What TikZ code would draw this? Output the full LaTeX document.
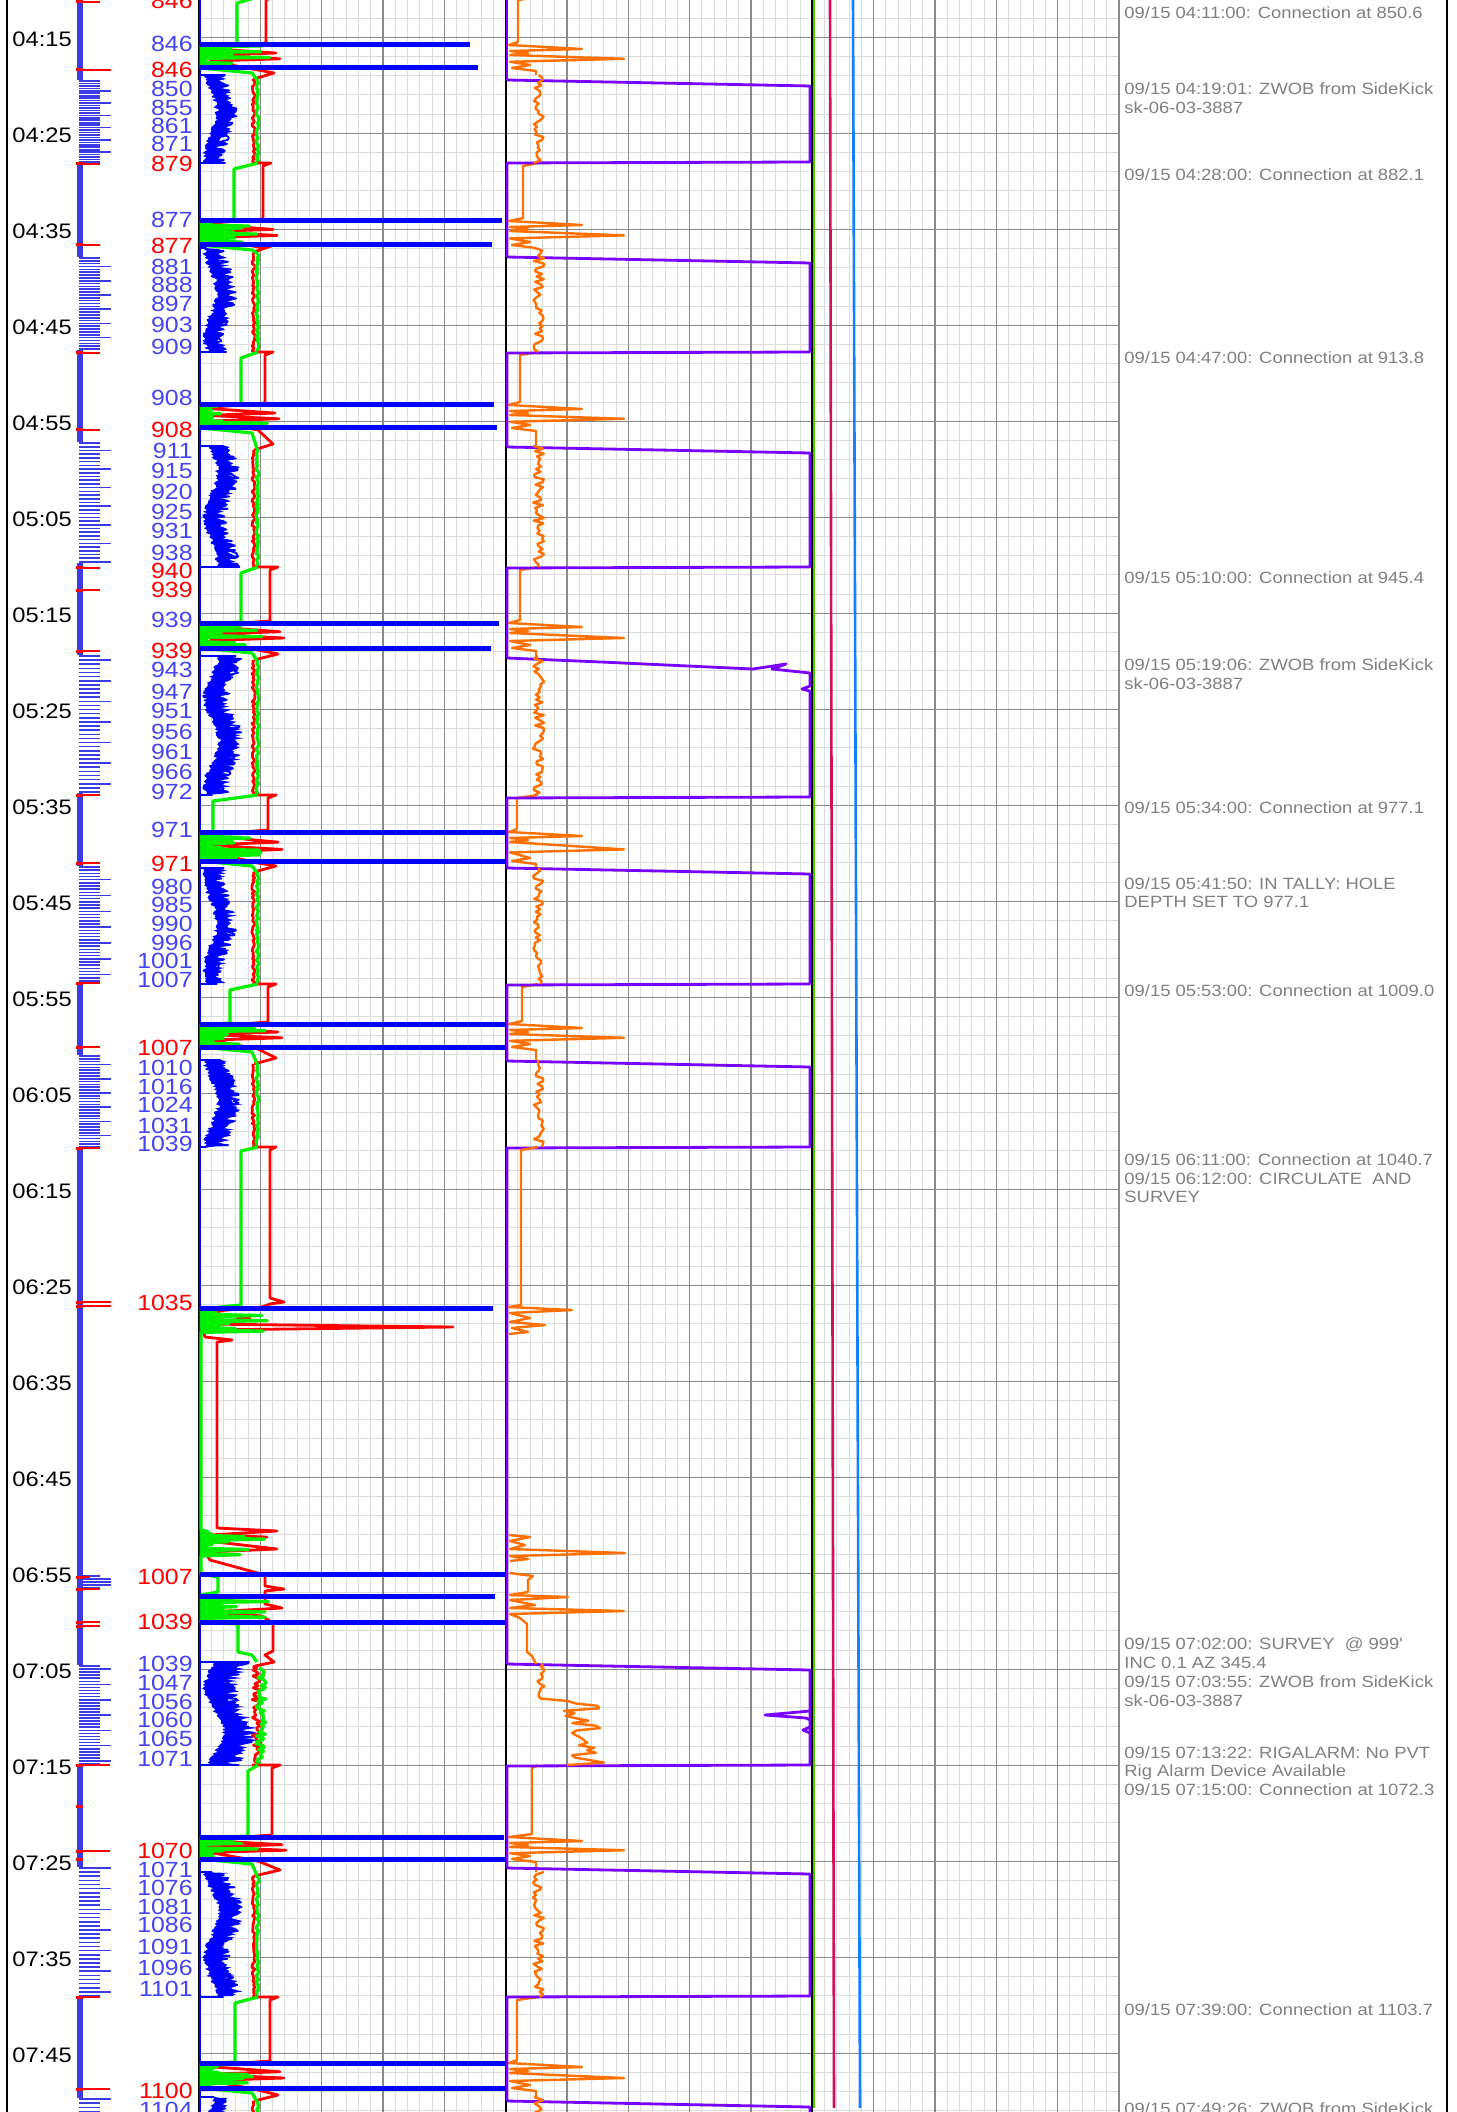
\documentclass[tikz,border=0pt]{standalone}
\usepackage{fontspec}
\setmainfont{Liberation Sans}[FakeStretch=1.13]

\definecolor{gridminor}{HTML}{DCDCDC}
\definecolor{gridmajor}{HTML}{8A8A8A}
\definecolor{ropblue}{HTML}{0000FF}
\definecolor{depthblue}{HTML}{4444F2}
\definecolor{tickblue}{HTML}{3C3CE6}
\definecolor{wobgreen}{HTML}{00F000}
\definecolor{torqred}{HTML}{FF0000}
\definecolor{sppcolor}{HTML}{FF7000}
\definecolor{flowcolor}{HTML}{7800FF}
\definecolor{limeline}{HTML}{50C800}
\definecolor{crimline}{HTML}{D0105A}
\definecolor{skyline}{HTML}{1280FF}
\definecolor{notegray}{HTML}{808080}

\tikzset{
  minorgrid/.style={draw=gridminor, line width=0.5pt},
  majorgrid/.style={draw=gridmajor, line width=0.6pt},
  trackedge/.style={draw=black, line width=0.75pt},
  timelabel/.style={anchor=base west, inner sep=0pt, font=\fontsize{10.5}{12}\selectfont},
  depthlabel/.style={anchor=base east, inner sep=0pt, font=\fontsize{11}{12}\selectfont},
  note/.style={anchor=base west, inner sep=0pt, text=notegray, font=\fontsize{8.15}{9.5}\selectfont},
  ropline/.style={draw=ropblue, line width=1.3pt},
  ropband/.style={draw=ropblue, line width=0.9pt, line join=round},
  ropspike/.style={draw=ropblue, line width=2.5pt},
  wobline/.style={draw=wobgreen, line width=1.6pt, line join=round},
  torqline/.style={draw=torqred, line width=1.4pt, line join=round},
  sppline/.style={draw=sppcolor, line width=1.2pt, line join=round},
  flowline/.style={draw=flowcolor, line width=1.4pt, line join=round},
  tickline/.style={draw=tickblue, line width=0.8pt},
  redmark/.style={draw=torqred, line width=0.9pt}
}

\begin{document}
\begin{tikzpicture}[x=0.5pt,y=-0.5pt]
  \pgfmathsetseed{4211}
  \useasboundingbox (0,0) rectangle (1456,2112);

  \foreach \j in {-1,...,108}
    \draw[minorgrid] (199,{37.3+\j*19.2}) -- (1119,{37.3+\j*19.2});
  \foreach \i in {0,...,75}
    \draw[minorgrid] ({199+\i*12.267},0) -- ({199+\i*12.267},2112);
  \foreach \j in {0,...,21}
    \draw[majorgrid] (199,{37.3+\j*96}) -- (1119,{37.3+\j*96});
  \foreach \i in {0,...,15}
    \draw[majorgrid] ({199+\i*61.333},0) -- ({199+\i*61.333},2112);
  \foreach \x in {199,506,812}
    \draw[trackedge] (\x,0) -- (\x,2112);
  \draw[draw=gridmajor, line width=0.9pt] (1119,0) -- (1119,2112);
  \draw[line width=1pt] (7,0) -- (7,2112);
  \draw[line width=1.2pt] (1447,0) -- (1447,2112);

  \foreach \tm [count=\k from 0] in {04:15,04:25,04:35,04:45,04:55,05:05,05:15,05:25,05:35,05:45,05:55,06:05,06:15,06:25,06:35,06:45,06:55,07:05,07:15,07:25,07:35,07:45}
    \node[timelabel] (t\k) at (12,{46.7+\k*96}) {\tm};

  \foreach \a/\b in {-5/80,163/257,350/442,563/655,793/866,982/1055,1148/1665,1765/1867,1997/2098}
    \fill[tickblue] (77,\a) rectangle (83,\b);
  \foreach \a/\b/\p/\q [evaluate=\q as \n using {int(\q-\p)}] in {80/163/846/879, 257/350/877/909, 442/563/908/940, 655/793/939/972, 866/982/971/1007, 1055/1148/1007/1039, 1665/1765/1039/1071, 1867/1997/1070/1101, 2098/2125/1100/1106}
    \foreach \k in {0,...,\n} {
      \pgfmathsetmacro\yy{\a+1+\k*(\b-\a-2)/\n}
      \pgfmathsetmacro\xx{mod(\p+\k,5)==0 ? 111 : 100}
      \draw[tickline] (79,\yy) -- (\xx,\yy);
    }
  \foreach \y/\l in {1576/100,1579/111,1582/111,1585/111,1588/100}
    \draw[tickline] (79,\y) -- (\l,\y);
  \foreach \y/\l in {2/100, 70/111, 164/100, 245/100, 353/100, 430/100, 568/100, 590/100, 651/100, 795/100, 863/100, 983/100, 1047/100, 1148/100, 1302/111, 1306/111, 1577/90, 1589/100, 1622/100, 1626/100, 1765/110, 1806/83, 1851/110, 1859/83, 1997/100, 2089/110} {
    \fill[torqred] (76,{\y-1.5}) rectangle (83,{\y+1.5});
    \draw[redmark] (76,\y) -- (\l,\y);
  }

  \foreach \y/\d [count=\n] in {43.3/846, 88.3/850, 107.3/855, 126/861, 144/871, 220/877, 266.7/881, 285/888, 303.3/897, 325/903, 346.7/909, 398/908, 450.8/911, 470.6/915, 491.4/920, 512/925, 531/931, 552.2/938, 619.7/939, 669.3/943, 691.5/947, 710.3/951, 731.6/956, 751.4/961, 771.7/966, 792/972, 829.7/971, 886.4/980, 904.8/985, 924.1/990, 942.5/996, 960.5/1001, 979.3/1007, 1067.6/1010, 1086.5/1016, 1105/1024, 1126/1031, 1144/1039, 1664/1039, 1683/1047, 1702/1056, 1720/1060, 1739/1065, 1759/1071, 1870/1071, 1888/1076, 1907/1081, 1925/1086, 1947/1091, 1968/1096, 1989/1101, 2110/1104}
    \node[depthlabel, text=depthblue] (db\n) at (193,{\y+7.8}) {\d};
  \foreach \y/\d [count=\n] in {1/846, 70/846, 163.3/879, 246/877, 429.6/908, 571/940, 590/939, 650.4/939, 863.7/971, 1047.8/1007, 1302.3/1035, 1577/1007, 1622/1039, 1851/1070, 2091/1100}
    \node[depthlabel, text=torqred] (dr\n) at (193,{\y+7.8}) {\d};

  \draw[ropline] (200,0) -- (200,2112);
  \foreach \a/\b/\w/\nz [evaluate=\b as \n using {int((\b-\a)/1.5)}, evaluate=\b as \m using {int((\b-\a)/2)}] in {75/163/30/3, 248/352/30/3, 446/567/32/3, 656/795/36/3, 868/984/30/3, 1060/1147/34/3, 1662/1765/48/10, 1872/1997/36/3, 2097/2116/24/3} {
    \fill[ropblue] (200,\a) -- plot[domain=\a+1:\b-1, samples=\n, variable=\t] ({202+0.2*\w*(1+sin(4*\t))+5*rnd},\t)
      -- (200,\b) -- plot[domain=\b-1:\a+1, samples=\n, variable=\t] ({202+0.2*\w*(1+sin(4*\t))+0.42*\w+0.38*\w*rnd},\t) -- cycle;
    \draw[ropband] (200,\a) -- plot[domain=\a:\b, samples=\n, variable=\t] ({203+0.2*\w*(1+sin(4*\t))+0.75*\w*rnd},\t) -- (200,\b);
    \draw[torqline] plot[domain=\a+4:\b, samples=\m, variable=\t] ({252+\nz*rnd},\t);
    \draw[wobline] plot[domain=\a+6:\b, samples=\m, variable=\t] ({256+\nz*rnd},\t);
  }

  \foreach \e/\sone/\stwo/\d/\gl/\rl/\ol in {-3/45/68/75/237/266/518, 163/221/245/248/234/263/523, 352/405/428/446/241/265/520, 567/623/648/656/241/270/520, 795/832/861/868/213/268/517, 984/1024/1047/1060/230/268/522, 1765/1837/1859/1872/248/272/532, 1997/2063/2088/2097/235/270/517} {
    \draw[torqline] (252,\e) -- ({\rl+8},\e) -- (\rl,{\e+3}) -- (\rl,{\sone-2}) -- (201,{\sone+3}) -- ({\rl+10},{\sone+0.35*(\stwo-\sone)}) -- (205,{\sone+0.45*(\stwo-\sone)}) -- ({\rl+14},{\sone+0.6*(\stwo-\sone)}) -- (210,{\sone+0.7*(\stwo-\sone)}) -- (258,{\stwo+2}) -- ({\rl+8},{\d-2}) -- (254,{\d+4});
    \draw[wobline] (258,\e) -- (\gl,{\e+6}) -- (\gl,{\sone-1}) -- (201,{\sone+1})
      \foreach \k in {1,...,12} { -- ({205+65*rnd^2},{\sone+(\k-0.5)*(\stwo-\sone)/12}) -- (201,{\sone+\k*(\stwo-\sone)/12}) }
      -- (252,{\stwo+5}) -- (258,{\d+6});
    \draw[sppline] (538,\e) -- (\ol,{\e+3}) -- (\ol,{\sone-3}) -- (509,\sone) -- (582,{\sone+4}) -- (510,{\sone+6}) -- (528,{\sone+8}) -- (510,{\sone+10}) -- (624,{\sone+0.6*(\stwo-\sone)}) -- (510,{\sone+0.6*(\stwo-\sone)+3}) -- (530,{\stwo-3}) -- (512,\stwo) -- (536,{\stwo+3}) -- (536,\d);
  }

  \draw[torqline] (252,1147) -- (276,1147) -- (270,1150) -- (270,1298) -- (284,1302) -- (270,1304) -- (262,1307) -- (205,1312) -- (250,1318) -- (203,1324) -- (453,1327) -- (203,1330) -- (205,1337) -- (232,1340) -- (217,1342) -- (217,1528) -- (277,1531) -- (210,1535) -- (267,1537) -- (208,1541) -- (277,1549) -- (205,1552) -- (210,1560) -- (265,1575) -- (265,1586) -- (284,1589) -- (265,1591) -- (265,1604) -- (282,1608) -- (210,1612) -- (262,1616) -- (273,1623) -- (273,1651) -- (265,1655) -- (274,1662) -- (255,1666);
  \draw[wobline] (258,1147) -- (241,1151) -- (241,1305) -- (201,1309)
    \foreach \k in {1,...,9} { -- ({205+65*rnd},{1309+(\k-0.5)*2.6}) -- (201,{1309+\k*2.6}) }
    -- (201,1530)
    \foreach \k in {1,...,10} { -- ({205+65*rnd},{1530+(\k-0.5)*2.6}) -- (201,{1530+\k*2.6}) }
    -- (201,1574) -- (218,1577) -- (218,1592) -- (201,1595)
    \foreach \k in {1,...,10} { -- ({205+65*rnd},{1595+(\k-0.5)*2.6}) -- (201,{1595+\k*2.6}) }
    -- (201,1622) -- (238,1624) -- (238,1652) -- (252,1655) -- (257,1662);

  \draw[flowline] (507,-5) -- (507,80);
  \foreach \a/\b/\c in {80/162/257, 257/352/447, 447/567/658, 868/984/1061, 1061/1147/1664, 1664/1765/1868, 1868/1996/2101, 2101/2130/2140}
    \draw[flowline] (507,\a) -- (810,{\a+6}) -- (810,\b) -- (507,{\b+1}) -- (507,\c);
  \draw[flowline] (507,658) -- (601,662) -- (753,669) -- (786,664) -- (772,669) -- (810,673) -- (810,686) -- (802,689) -- (810,691) -- (810,797) -- (507,798) -- (507,868);
  \draw[flowline] (810,1711) -- (765,1715) -- (806,1718) -- (810,1720);
  \draw[flowline] (810,1727) -- (803,1730) -- (810,1733);

  \foreach \a/\b [evaluate=\b as \n using {int((\b-\a)/2.5)}] in {75/163, 248/352, 446/567, 656/795, 868/984, 1060/1147, 1872/1997, 2097/2116}
    \draw[sppline] plot[domain=\a:\b, samples=\n, variable=\t] ({533+11*rnd},\t);
  \draw[sppline] plot[domain=1664:1765, samples=42, variable=\t] ({537+(\t>1700)*(22+40*rnd)+8*rnd},\t);
  \draw[sppline] (538,1147) -- (521,1150) -- (521,1305) -- (509,1307) -- (572,1310) -- (510,1313) -- (530,1318) -- (510,1322) -- (545,1325) -- (512,1328) -- (528,1332) -- (509,1334);
  \draw[sppline] (509,1535) -- (530,1537) -- (510,1541) -- (525,1545) -- (510,1549) -- (625,1553) -- (510,1556) -- (528,1559) -- (510,1561);
  \draw[sppline] (510,1573) -- (533,1576) -- (528,1580) -- (528,1592) -- (510,1595) -- (568,1597) -- (510,1600) -- (535,1605) -- (510,1608) -- (624,1611) -- (510,1614) -- (520,1618) -- (527,1624) -- (527,1652) -- (532,1656) -- (536,1664);

  \foreach \y/\xe in {45/470, 68/478, 221/502, 245/492, 405/494, 428/497, 623/499, 648/491, 832/505, 861/505, 1024/505, 1047/505, 1308/493, 1574/505, 1596/495, 1622/505, 1837/504, 1859/505, 2063/505, 2088/505}
    \draw[ropspike] (200,\y) -- (\xe,\y);

  \draw[draw=limeline, line width=1.3pt] (814,0) -- (814,2108);
  \draw[draw=crimline, line width=1.3pt] (830,0) -- (834,2108);
  \draw[draw=skyline, line width=1.3pt] (853,0) -- (860,2108);

  \node[note] (n1) at (1124,18.3) {09/15 04:11:00: Connection at 850.6};
  \node[note] (n2) at (1124,95) {09/15 04:19:01: ZWOB from SideKick};
  \node[note] (n3) at (1124,113.5) {sk-06-03-3887};
  \node[note] (n4) at (1124,181) {09/15 04:28:00: Connection at 882.1};
  \node[note] (n5) at (1124,363.3) {09/15 04:47:00: Connection at 913.8};
  \node[note] (n6) at (1124,583.5) {09/15 05:10:00: Connection at 945.4};
  \node[note] (n7) at (1124,670.6) {09/15 05:19:06: ZWOB from SideKick};
  \node[note] (n8) at (1124,689) {sk-06-03-3887};
  \node[note] (n9) at (1124,813.8) {09/15 05:34:00: Connection at 977.1};
  \node[note] (n10) at (1124,889) {09/15 05:41:50: IN TALLY: HOLE};
  \node[note] (n11) at (1124,907.5) {DEPTH SET TO 977.1};
  \node[note] (n12) at (1124,996.3) {09/15 05:53:00: Connection at 1009.0};
  \node[note] (n13) at (1124,1165.5) {09/15 06:11:00: Connection at 1040.7};
  \node[note] (n14) at (1124,1184) {09/15 06:12:00: CIRCULATE\ \ AND};
  \node[note] (n15) at (1124,1202.5) {SURVEY};
  \node[note] (n16) at (1124,1649.3) {09/15 07:02:00: SURVEY\ \ @ 999\textquotesingle};
  \node[note] (n17) at (1124,1668) {INC 0.1 AZ 345.4};
  \node[note] (n18) at (1124,1687) {09/15 07:03:55: ZWOB from SideKick};
  \node[note] (n19) at (1124,1706) {sk-06-03-3887};
  \node[note] (n20) at (1124,1758.3) {09/15 07:13:22: RIGALARM: No PVT};
  \node[note] (n21) at (1124,1776.8) {Rig Alarm Device Available};
  \node[note] (n22) at (1124,1795.3) {09/15 07:15:00: Connection at 1072.3};
  \node[note] (n23) at (1124,2015) {09/15 07:39:00: Connection at 1103.7};
  \node[note] (n24) at (1124,2114.5) {09/15 07:49:26: ZWOB from SideKick};
\end{tikzpicture}
\end{document}
